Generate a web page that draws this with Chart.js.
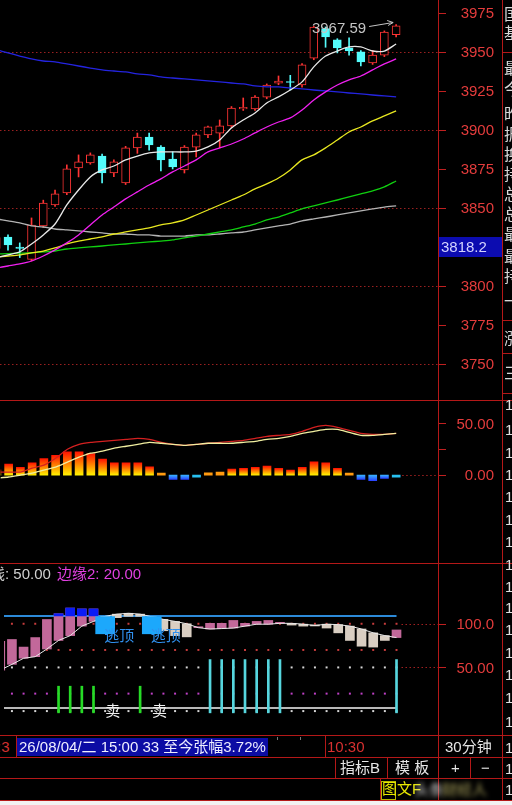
<!DOCTYPE html>
<html>
<head>
<meta charset="utf-8">
<title>K线 30分钟</title>
<script src="https://cdn.jsdelivr.net/npm/chart.js@4.4.1/dist/chart.umd.min.js"></script>
<style>
  html, body { margin: 0; padding: 0; background: #000; }
  #wrap { position: relative; width: 512px; height: 805px; background: #000; overflow: hidden;
          font-family: "Liberation Sans", Arial, "Noto Sans CJK SC", sans-serif; }
  canvas { position: absolute; left: 0; }
  .hl { position: absolute; height: 1px; background: #b41818; z-index: 2; }
  .vl { position: absolute; width: 1px; background: #b41818; z-index: 2; }
  .t { position: absolute; white-space: nowrap; font-size: 15px; line-height: 18px; z-index: 3; }
</style>
</head>
<body>
<div id="wrap">
  <canvas id="main" width="512" height="400" style="top:0"></canvas>
  <canvas id="macd" width="512" height="163" style="top:400px"></canvas>
  <canvas id="edge" width="512" height="172" style="top:563px"></canvas>

  <!-- panel borders -->
  <div class="hl" style="top:400px;left:0;width:512px"></div>
  <div class="hl" style="top:563px;left:0;width:512px"></div>
  <div class="hl" style="top:735px;left:0;width:512px"></div>
  <div class="hl" style="top:757px;left:0;width:512px"></div>
  <div class="hl" style="top:778px;left:0;width:512px"></div>
  <div class="hl" style="top:800px;left:0;width:512px"></div>
  <div class="vl" style="left:438px;top:0;height:800px"></div>
  <div class="vl" style="left:502px;top:0;height:800px"></div>
  <div class="hl" style="top:52px;left:502px;width:10px"></div>
  <div class="hl" style="top:320px;left:502px;width:10px"></div>
  <div class="hl" style="top:353px;left:502px;width:10px"></div>
  <div class="hl" style="top:393px;left:502px;width:10px"></div>
  <div class="vl" style="left:16px;top:735px;height:22px"></div>
  <div class="vl" style="left:325px;top:735px;height:22px"></div>
  <div class="vl" style="left:335px;top:757px;height:21px"></div>
  <div class="vl" style="left:387px;top:757px;height:21px"></div>
  <div class="vl" style="left:470px;top:757px;height:21px"></div>
  <div class="vl" style="left:380px;top:778px;height:22px"></div>

  <!-- status bar -->
  <div class="t" style="left:-3px;top:738px;color:#d03030">:3</div>
  <div style="position:absolute;left:17px;top:738px;width:251px;height:18px;background:#0c0ca4;z-index:2"></div>
  <div class="t" style="left:19px;top:738px;color:#eef">26/08/04/二 15:00 33 至今张幅3.72%</div>
  <div style="position:absolute;left:277px;top:737px;width:1px;height:3px;background:#777;z-index:2"></div>
  <div style="position:absolute;left:300px;top:737px;width:1px;height:3px;background:#777;z-index:2"></div>
  <div class="t" style="left:327px;top:738px;color:#d83030">10:30</div>
  <div class="t" style="left:445px;top:738px;color:#e6e6e6">30分钟</div>
  <div class="t" style="left:340px;top:759px;color:#e6e6e6">指标B</div>
  <div class="t" style="left:395px;top:759px;color:#e6e6e6">模&nbsp;板</div>
  <div class="t" style="left:451px;top:759px;color:#e6e6e6">+</div>
  <div class="t" style="left:481px;top:759px;color:#e6e6e6">−</div>
  <div style="position:absolute;left:381px;top:781px;width:13px;height:17px;border:1px solid #b8b800;z-index:2"></div>
  <div class="t" style="left:382px;top:780px;color:#e8e800">图文F</div>
  <div class="t" style="left:414px;top:781px;color:#d8d8d8;filter:blur(2.5px)">头条</div>
  <div class="t" style="left:442px;top:781px;color:#b0a860;filter:blur(2.5px)">财经人</div>
  <div style="position:absolute;left:0;top:801px;width:512px;height:4px;background:#f2f2f2;z-index:2"></div>
  <div id="side"></div>
</div>

<script>
// ---- price bars, index -1 is the half hidden bar at the left edge ----
const opens  = [3824, 3831.4, 3825, 3817, 3838.5, 3852, 3859.6, 3875.6, 3878.8, 3883.3, 3872.4, 3866, 3888.5, 3895.5, 3889, 3881.4, 3874.4, 3889, 3896.8, 3898, 3902.6, 3913.5, 3913.5, 3921, 3930, 3931, 3928.8, 3946, 3965, 3957.7, 3952.6, 3950, 3943, 3948, 3961];
const closes = [3831, 3826.3, 3824, 3839, 3853.2, 3859, 3875, 3879.5, 3884, 3872.4, 3879.5, 3888.5, 3895.5, 3890.4, 3880.8, 3876.3, 3889, 3896.8, 3902, 3902.6, 3914, 3914.5, 3921, 3928.8, 3931.4, 3930.4, 3941.7, 3966, 3959.6, 3952.6, 3950.6, 3943.6, 3948, 3962.8, 3966.8];
const highs  = [3833, 3832.7, 3827.6, 3843.6, 3855, 3861.5, 3877.6, 3884, 3885.3, 3884.5, 3880.8, 3889.5, 3898, 3898, 3890, 3886, 3890, 3898, 3902.5, 3906.4, 3915, 3920.5, 3922, 3929.5, 3934.6, 3935, 3942.5, 3966.5, 3966, 3958.5, 3959, 3950.8, 3951, 3963.5, 3967.59];
const lows   = [3822, 3823, 3818.2, 3816, 3837.5, 3851, 3858.5, 3869.9, 3878, 3866, 3870, 3865, 3885, 3887, 3873.7, 3875, 3872.4, 3882.7, 3895, 3888.5, 3901.5, 3912.5, 3912.5, 3920, 3929, 3925.6, 3927.5, 3945, 3953, 3949.4, 3948, 3941, 3942, 3947, 3959.6];

// moving averages
const maWhite   = [3818, 3819.9, 3821.8, 3826.9, 3832.7, 3839.7, 3851.9, 3861.5, 3869.9, 3874.4, 3876.9, 3880.8, 3883.3, 3885.3, 3885.9, 3885.9, 3885.9, 3886.5, 3889.1, 3893.6, 3901.3, 3906.4, 3910.9, 3917.3, 3921.2, 3925.6, 3930.8, 3940.4, 3947.4, 3950.6, 3953.2, 3953.2, 3950.6, 3950.6, 3955.1];
const maMagenta = [3811.5, 3812.8, 3814.1, 3816.0, 3819.2, 3823.1, 3827.6, 3832.7, 3839.1, 3845.5, 3850.6, 3855.8, 3860.3, 3864.7, 3868.6, 3873.1, 3876.9, 3880.8, 3885.9, 3888.5, 3891.0, 3894.2, 3898.1, 3901.9, 3905.1, 3907.7, 3912.8, 3919.2, 3924.4, 3928.8, 3932.1, 3934.6, 3938.5, 3942.3, 3945.5];
const maYellow  = [3818.6, 3819.2, 3819.9, 3821.2, 3822.4, 3824.4, 3826.9, 3828.8, 3830.1, 3831.4, 3833.3, 3834.6, 3835.9, 3837.2, 3839.1, 3840.4, 3842.3, 3845.5, 3848.7, 3851.9, 3855.1, 3858.3, 3862.2, 3865.4, 3869.2, 3874.4, 3880.8, 3884.0, 3888.5, 3893.6, 3898.7, 3901.9, 3905.8, 3909.0, 3912.2];
const maGreen   = [3820.5, 3820.7, 3821, 3821.3, 3821.8, 3822.4, 3823.7, 3824.4, 3825.0, 3825.6, 3826.3, 3826.9, 3827.6, 3828.2, 3828.8, 3829.5, 3830.8, 3832.0, 3833.3, 3834.6, 3835.9, 3837.8, 3839.7, 3842.3, 3844.2, 3846.8, 3849.4, 3851.3, 3853.2, 3855.1, 3857.1, 3859.0, 3861.0, 3863.5, 3867.3];
const maGray    = [3843, 3841.7, 3840.4, 3838.5, 3837.8, 3836.5, 3835.9, 3835.3, 3834.6, 3834.0, 3833.3, 3833.3, 3832.7, 3832.7, 3832.0, 3832.0, 3832.0, 3832.7, 3832.7, 3833.3, 3834.0, 3834.6, 3835.9, 3837.2, 3838.5, 3839.7, 3841.7, 3843.0, 3844.2, 3845.5, 3846.8, 3848.1, 3849.4, 3850.6, 3851.3];
const maBlue    = [3951.5, 3949.4, 3947.4, 3945.5, 3944.2, 3943.6, 3942.3, 3941.0, 3939.7, 3938.5, 3937.8, 3937.2, 3935.9, 3935.3, 3934.0, 3933.3, 3932.7, 3932.1, 3931.4, 3930.8, 3930.1, 3929.5, 3928.2, 3927.6, 3927.6, 3926.9, 3926.3, 3925.6, 3925.0, 3924.4, 3923.7, 3923.1, 3922.4, 3921.8, 3921.2];

const priceTicks  = [3750, 3775, 3800, 3825, 3850, 3875, 3900, 3925, 3950, 3975];
const priceGrid   = [3750, 3800, 3850, 3900, 3950];
const priceLabels = [3750, 3775, 3800, 3850, 3875, 3900, 3925, 3950, 3975];
const cursorPrice = '3818.2';

// MACD panel
const macdHist = [5, 10.6, 7.4, 11.9, 16.0, 19.2, 22.4, 22.4, 20.8, 15.4, 11.9, 11.9, 11.9, 8.0, 1.0, -4.2, -4.2, -1.0, 2.2, 2.9, 5.8, 6.4, 7.4, 8.7, 6.4, 4.8, 7.4, 12.8, 11.9, 6.4, 1.6, -4.2, -5.4, -3.2, -0.5];
const macdDif  = [2.9, 2.9, 2.9, 6.7, 9.6, 16.3, 25.0, 29.8, 31.7, 32.7, 33.7, 34.6, 35.6, 34.6, 31.7, 29.8, 28.8, 29.8, 30.8, 31.7, 32.7, 33.7, 35.6, 37.5, 38.5, 39.4, 42.3, 46.2, 48.1, 46.2, 43.3, 40.4, 39.4, 39.4, 40.4];
const macdDea  = [-2.9, -1.9, 0, 1.9, 4.8, 7.7, 12.5, 17.3, 21.2, 23.1, 26.0, 27.9, 29.8, 31.7, 30.8, 29.8, 28.8, 29.8, 30.8, 30.8, 30.8, 31.7, 32.7, 34.6, 35.6, 37.5, 40.4, 42.3, 44.2, 44.2, 41.3, 38.5, 38.5, 39.4, 40.4];
const macdTicks  = [0, 25, 50];
const macdLabels = [[0, '0.00'], [50, '50.00']];

// edge indicator panel
const edgeA = [80, 82, 73.3, 84.2, 104.9, 111.5, 118, 117, 117, 104, 107, 108.5, 108.5, 104, 92, 86.4, 85, 96, 100.5, 100.5, 103.8, 100.5, 102.7, 103.8, 101, 98.5, 97.3, 97.5, 95.1, 89.6, 80.9, 74.3, 73.3, 80.9, 92.9];
const edgeB = [47, 53.5, 60.5, 62.3, 71.1, 80.9, 86.4, 97.3, 102.7, 108.5, 111, 112, 111, 108, 105, 102.7, 100, 95.5, 94, 94.5, 95.1, 97.3, 99.5, 99.5, 100.5, 100.5, 99.5, 98, 99.5, 99, 97.3, 94, 89.6, 86.4, 84.2];
const edgeLevels = [100, 70, 50, 20, 0];
const edgeTicks  = [50, 100];
const edgeLabels = [[50, '50.00'], [100, '100.0']];
const topLine = 109;
const baseLine = 3.4;
const sellIdx = [4, 5, 6, 7, 11];
const buyIdx = [17, 18, 19, 20, 21, 22, 23, 33];
const escapeIdx = [8, 12];
const sellTextIdx = [9, 13];

// ---- helpers ----
const X_MIN = -0.68, X_MAX = 36.56;
const RED_K = '#ff3434', CYAN_K = '#54fcfc';
const NUM_FONT = '15px "Liberation Sans", Arial, sans-serif';
const CJK_FONT = '15px "Liberation Sans", "Noto Sans CJK SC", sans-serif';

function xAxis() {
  return { type: 'linear', min: X_MIN, max: X_MAX, offset: false, display: false };
}

function lineSet(values, color, order, width, tension) {
  return {
    type: 'line',
    data: values.map((v, i) => ({ x: i - 1, y: v })),
    borderColor: color,
    borderWidth: width || 1.3,
    pointRadius: 0,
    tension: tension === undefined ? 0.25 : tension,
    fill: false,
    order
  };
}

function rangeBars(idxList, lo, hi, color, thick, order) {
  return {
    type: 'bar',
    data: idxList.map(i => ({ x: i, y: [lo, hi] })),
    backgroundColor: color,
    barThickness: thick,
    grouped: false,
    order
  };
}

function baseOptions(yMin, yMax) {
  return {
    responsive: false,
    animation: false,
    events: [],
    layout: { padding: { left: 0, right: 74, top: 0, bottom: 0 } },
    plugins: { legend: { display: false }, tooltip: { enabled: false } },
    scales: { x: xAxis(), y: { type: 'linear', min: yMin, max: yMax, display: false } }
  };
}

function drawAxis(chart, ticks, labels) {
  const { ctx, chartArea: a, scales: { y } } = chart;
  ctx.save();
  ctx.strokeStyle = '#c02020';
  ctx.lineWidth = 1;
  ticks.forEach(v => {
    const py = Math.round(y.getPixelForValue(v)) + 0.5;
    ctx.beginPath();
    ctx.moveTo(a.right, py);
    ctx.lineTo(a.right + 8, py);
    ctx.stroke();
  });
  ctx.fillStyle = '#e43c3c';
  ctx.font = NUM_FONT;
  ctx.textAlign = 'right';
  ctx.textBaseline = 'middle';
  labels.forEach(([v, t]) => ctx.fillText(t, 494, y.getPixelForValue(v) + 1));
  ctx.restore();
}

function dotted(ctx, x0, x1, py, color) {
  ctx.save();
  ctx.strokeStyle = color;
  ctx.lineWidth = 1;
  ctx.setLineDash([1.5, 2.5]);
  ctx.beginPath();
  ctx.moveTo(x0, Math.round(py) + 0.5);
  ctx.lineTo(x1, Math.round(py) + 0.5);
  ctx.stroke();
  ctx.restore();
}

// ---- main price chart ----
const kColors = closes.map((c, i) => c >= opens[i] ? RED_K : CYAN_K);
const kFill = closes.map((c, i) => c >= opens[i] ? '#000' : CYAN_K);

const mainDecor = {
  id: 'mainDecor',
  beforeDatasetsDraw(chart) {
    const { ctx, chartArea: a, scales: { y } } = chart;
    priceGrid.forEach(v => dotted(ctx, a.left, a.right, y.getPixelForValue(v), '#9a2020'));
  },
  afterDatasetsDraw(chart) {
    // highest price marker
    const { ctx, scales: { x, y } } = chart;
    const top = Math.max(...highs);
    const i = highs.indexOf(top);
    const px = x.getPixelForValue(i - 1), py = y.getPixelForValue(top);
    ctx.save();
    ctx.fillStyle = '#c4c4c4';
    ctx.strokeStyle = '#c4c4c4';
    ctx.font = NUM_FONT;
    ctx.textAlign = 'right';
    ctx.textBaseline = 'middle';
    ctx.fillText(top.toFixed(2), px - 30, py + 4.5);
    ctx.lineWidth = 1;
    ctx.beginPath();
    ctx.moveTo(px - 27, py + 2);
    ctx.lineTo(px - 3, py - 2);
    ctx.moveTo(px - 3, py - 2);
    ctx.lineTo(px - 9, py - 4);
    ctx.moveTo(px - 3, py - 2);
    ctx.lineTo(px - 8, py + 1);
    ctx.stroke();
    ctx.restore();
  },
  afterDraw(chart) {
    drawAxis(chart, priceTicks, priceLabels.map(v => [v, String(v)]));
    const { ctx } = chart;
    ctx.save();
    ctx.fillStyle = '#0c0cb0';
    ctx.fillRect(439, 237, 63, 20);
    ctx.fillStyle = '#d4d4ff';
    ctx.font = NUM_FONT;
    ctx.textBaseline = 'middle';
    ctx.fillText(cursorPrice, 441, 248);
    ctx.restore();
  }
};

new Chart(document.getElementById('main'), {
  type: 'bar',
  data: {
    datasets: [
      lineSet(maWhite, '#e8e8e8', 1),
      lineSet(maMagenta, '#f020f0', 2),
      lineSet(maYellow, '#e8e820', 3),
      lineSet(maGreen, '#10d010', 4),
      lineSet(maGray, '#b4b4b4', 5),
      lineSet(maBlue, '#2424e0', 6),
      {
        type: 'bar',
        data: opens.map((o, i) => ({ x: i - 1, y: [o, closes[i]] })),
        backgroundColor: kFill,
        borderColor: kColors,
        borderWidth: 1,
        borderSkipped: false,
        barThickness: 8,
        minBarLength: 1,
        grouped: false,
        order: 8
      },
      {
        type: 'bar',
        data: lows.map((l, i) => ({ x: i - 1, y: [l, highs[i]] })),
        backgroundColor: kColors,
        barThickness: 1,
        grouped: false,
        order: 9
      }
    ]
  },
  options: baseOptions(3726.9, 3983.3),
  plugins: [mainDecor]
});

// ---- MACD chart ----
function histColor(c) {
  const v = macdHist[c.dataIndex];
  const y = c.chart.scales.y;
  const fallback = v >= 0 ? '#ff9a10' : '#28c0f0';
  if (!y || v === undefined) return fallback;
  const p0 = y.getPixelForValue(0), p1 = y.getPixelForValue(v);
  if (!Number.isFinite(p0) || !Number.isFinite(p1) || Math.abs(p1 - p0) < 3) return fallback;
  const g = c.chart.ctx.createLinearGradient(0, p1, 0, p0);
  if (v >= 0) {
    g.addColorStop(0, '#ff1400');
    g.addColorStop(0.5, '#ff8000');
    g.addColorStop(1, '#fff000');
  } else {
    g.addColorStop(0, '#2a44ff');
    g.addColorStop(1, '#38b4ff');
  }
  return g;
}

const macdDecor = {
  id: 'macdDecor',
  beforeDatasetsDraw(chart) {
    const { ctx, scales: { x, y } } = chart;
    dotted(ctx, x.getPixelForValue(macdHist.length - 2) + 6, 446, y.getPixelForValue(0), '#a02020');
  },
  afterDraw(chart) {
    drawAxis(chart, macdTicks, macdLabels);
  }
};

const macdChart = new Chart(document.getElementById('macd'), {
  type: 'bar',
  data: {
    datasets: [
      lineSet(macdDea, '#f0eea0', 1, 1.3, 0.2),
      lineSet(macdDif, '#d42020', 2, 1.3, 0.2),
      {
        type: 'bar',
        data: macdHist.map((v, i) => ({ x: i - 1, y: v })),
        backgroundColor: histColor,
        barThickness: 8,
        minBarLength: 2,
        grouped: false,
        order: 5
      }
    ]
  },
  options: baseOptions(-84.6, 72.1),
  plugins: [macdDecor]
});
// second pass so the gradients see the laid out scale
macdChart.update('none');

// ---- edge indicator chart ----
const PINK = '#c2689a', TAN = '#d9cec2';
const edgeColors = edgeA.map((a, i) => a >= edgeB[i] ? PINK : TAN);
const capData = edgeA
  .map((a, i) => ({ x: i - 1, a, up: a >= edgeB[i] }))
  .filter(d => d.up && d.a > topLine)
  .map(d => ({ x: d.x, y: [topLine, d.a] }));
const levelColors = ['#c83c3c', '#c83c3c', '#d8d8d8', '#c040c8', '#d8d8d8'];

const edgeDecor = {
  id: 'edgeDecor',
  beforeDatasetsDraw(chart) {
    const { ctx, scales: { x, y } } = chart;
    const x0 = x.getPixelForValue(edgeA.length - 2) + 5;
    dotted(ctx, x0, 446, y.getPixelForValue(100), '#a02020');
    dotted(ctx, x0, 446, y.getPixelForValue(50), '#a02020');
  },
  afterDatasetsDraw(chart) {
    const { ctx, scales: { x, y } } = chart;
    ctx.save();
    ctx.font = CJK_FONT;
    ctx.textBaseline = 'middle';
    ctx.textAlign = 'left';
    ctx.fillStyle = '#3090ee';
    escapeIdx.forEach(i => ctx.fillText('逃顶', x.getPixelForValue(i) - 1, y.getPixelForValue(85.3)));
    ctx.fillStyle = '#f0f0f0';
    ctx.textAlign = 'center';
    sellTextIdx.forEach(i => ctx.fillText('卖', x.getPixelForValue(i) - 4, y.getPixelForValue(-0.5)));
    ctx.restore();
  },
  afterDraw(chart) {
    drawAxis(chart, edgeTicks, edgeLabels);
    const { ctx } = chart;
    ctx.save();
    ctx.font = CJK_FONT;
    ctx.textBaseline = 'middle';
    ctx.fillStyle = '#d0d0d0';
    ctx.fillText('中线: 50.00', -25, 12);
    ctx.fillStyle = '#e040e0';
    ctx.fillText('边缘2: 20.00', 57, 12);
    ctx.restore();
  }
};

const levelSets = edgeLevels.map((lv, k) => ({
  type: 'line',
  data: edgeA.map((_, i) => ({ x: i - 1, y: lv })),
  showLine: false,
  pointRadius: 1.4,
  pointStyle: 'rect',
  pointBackgroundColor: levelColors[k],
  pointBorderWidth: 0,
  order: 12
}));

new Chart(document.getElementById('edge'), {
  type: 'bar',
  data: {
    datasets: [
      rangeBars(escapeIdx, 88.5, 108.2, '#1ca8fc', 19, 1),
      lineSet(edgeB, '#e8e8e8', 2, 1, 0),
      { type: 'bar', data: capData, backgroundColor: '#0a1cf5', barThickness: 9, grouped: false, order: 3 },
      {
        type: 'bar',
        data: edgeA.map((a, i) => ({ x: i - 1, y: [edgeB[i], a] })),
        backgroundColor: edgeColors,
        barThickness: 9,
        minBarLength: 1,
        grouped: false,
        order: 4
      },
      rangeBars(sellIdx, -2, 28.5, '#26dc26', 2, 5),
      rangeBars(buyIdx, -2, 59, '#56d6de', 2, 5),
      lineSet(edgeA.map(() => topLine), '#2c8ad8', 6, 2, 0),
      lineSet(edgeA.map(() => baseLine), '#b8b8b8', 7, 2, 0),
      ...levelSets
    ]
  },
  options: baseOptions(-22.8, 165.0),
  plugins: [edgeDecor]
});

// ---- side column (cut off at the window edge) ----
const sideChars = [['国', 13], ['基', 32], ['最', 67], ['今', 88], ['昨', 113], ['振', 133], ['换', 153], ['持', 173], ['总', 193], ['总', 213], ['最', 233], ['最', 255], ['持', 275], ['一', 300], ['涨', 337], ['三', 372]];
const sideOnes = [405, 430, 453, 475, 497, 520, 542, 565, 587, 608, 630, 653, 675, 698, 722, 748, 769, 790];
const side = document.getElementById('side');
sideChars.forEach(([ch, y]) => {
  const d = document.createElement('div');
  d.className = 't';
  d.style.cssText = `left:504px;top:${y - 9}px;color:#d8d8d8;font-size:16px;font-family:"Noto Sans CJK SC",sans-serif`;
  d.textContent = ch;
  side.appendChild(d);
});
sideOnes.forEach(y => {
  const d = document.createElement('div');
  d.className = 't';
  d.style.cssText = `left:505px;top:${y - 9}px;color:#e0e0e0`;
  d.textContent = '1';
  side.appendChild(d);
});
</script>
</body>
</html>
